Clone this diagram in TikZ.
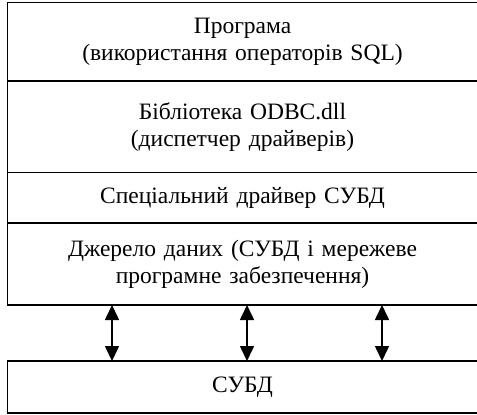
\documentclass[tikz,border=0pt]{standalone}
\usepackage{fontspec}
\setmainfont{Liberation Serif}
\usetikzlibrary{positioning}
\usetikzlibrary{arrows.meta}

\tikzset{
  layer/.style={draw, line width=1.4pt, outer sep=0pt,
    minimum width=470pt, text width=450pt, align=center,
    font=\fontsize{23.5}{27}\selectfont},
  link/.style={{Triangle[width=14pt,length=15pt]}-{Triangle[width=14pt,length=15pt]}, line width=1.6pt}
}

\begin{document}
\begin{tikzpicture}
\useasboundingbox (0,0) rectangle (477pt,-415pt);

% Program
\node[layer,
    minimum height=78.5pt,
    anchor=north west
] (prog) at (7.5pt,-2.5pt) {Програма\\(використання операторів SQL)};

% Driver manager
\node[layer,
    minimum height=91.5pt,
    below=0pt of prog
] (odbc) {Бібліотека ODBC.dll\\(диспетчер драйверів)};

% Driver
\node[layer,
    minimum height=50.5pt,
    below=0pt of odbc
] (driver) {Спеціальний драйвер СУБД};

% Data source
\node[layer,
    minimum height=82pt,
    below=0pt of driver
] (source) {Джерело даних (СУБД і мережеве\\програмне забезпечення)};

% DBMS
\node[layer,
    minimum height=52pt,
    below=56pt of source
] (dbms) {СУБД};

% Arrows
\foreach \dx in {104.5,239.5,374.5}
  \draw[link] ([xshift=\dx pt]source.south west) -- ([xshift=\dx pt]dbms.north west);

\end{tikzpicture}
\end{document}
